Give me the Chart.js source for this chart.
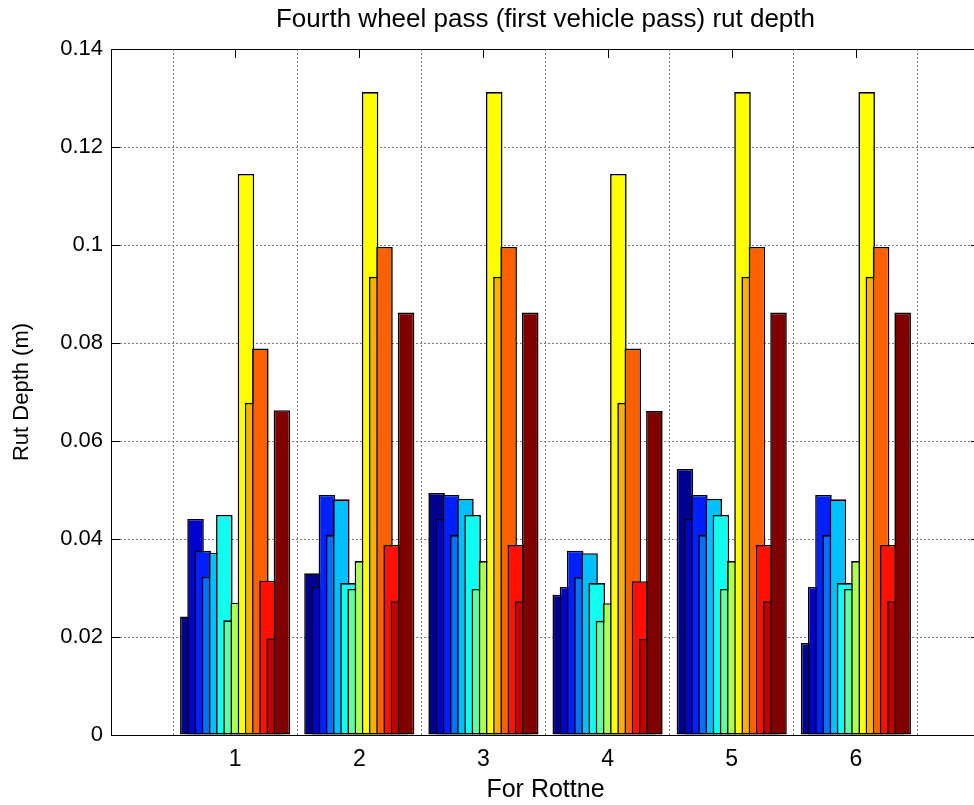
<!DOCTYPE html>
<html>
<head>
<meta charset="utf-8">
<title>Fourth wheel pass rut depth</title>
<script src="https://cdn.jsdelivr.net/npm/chart.js@4.4.1/dist/chart.umd.min.js"></script>
<style>
  html, body { margin: 0; padding: 0; background: #fff; overflow: hidden; }
  #wrap { width: 974px; height: 805px; overflow: hidden; }
</style>
</head>
<body>
<div id="wrap"><canvas id="rutChart" width="990" height="805"></canvas></div>
<script>
// groups on the x axis and tick values
const groups = [1, 2, 3, 4, 5, 6];
const xTicks = [1, 2, 3, 4, 5, 6];
const yTicks = [0, 0.02, 0.04, 0.06, 0.08, 0.1, 0.12, 0.14];

// rut depth (m), one array per bar series, one value per group
const bar1  = [0.0242, 0.0330, 0.0494, 0.0286, 0.0543, 0.0188];
const bar2  = [0.0441, 0.0302, 0.0441, 0.0302, 0.0441, 0.0302];
const bar3  = [0.0376, 0.0490, 0.0490, 0.0376, 0.0490, 0.0490];
const bar4  = [0.0323, 0.0408, 0.0408, 0.0322, 0.0408, 0.0408];
const bar5  = [0.0372, 0.0481, 0.0482, 0.0371, 0.0482, 0.0481];
const bar6  = [0.0449, 0.0310, 0.0449, 0.0310, 0.0449, 0.0310];
const bar7  = [0.0234, 0.0298, 0.0298, 0.0233, 0.0298, 0.0298];
const bar8  = [0.0270, 0.0355, 0.0355, 0.0269, 0.0355, 0.0355];
const bar9  = [0.1145, 0.1312, 0.1312, 0.1145, 0.1312, 0.1312];
const bar10 = [0.0678, 0.0935, 0.0935, 0.0678, 0.0935, 0.0935];
const bar11 = [0.0789, 0.0996, 0.0996, 0.0789, 0.0996, 0.0996];
const bar12 = [0.0315, 0.0388, 0.0388, 0.0314, 0.0388, 0.0388];
const bar13 = [0.0197, 0.0273, 0.0273, 0.0196, 0.0273, 0.0273];
const bar14 = [0.0663, 0.0862, 0.0862, 0.0661, 0.0862, 0.0862];

// jet colours, one per series
const seriesColors = ['#00008F', '#0000CF', '#0020FF', '#0070FF', '#00BFFF', '#10FFEF', '#60FF9F',
                      '#AFFF50', '#FFFF00', '#FFAF00', '#FF6000', '#FF1000', '#BF0000', '#800000'];

const series = [bar1, bar2, bar3, bar4, bar5, bar6, bar7, bar8, bar9, bar10, bar11, bar12, bar13, bar14];
const slot = 0.058; // spacing of bars inside a group, in x units

Chart.defaults.font.family = '"Liberation Sans", Arial, Helvetica, sans-serif';
Chart.defaults.color = '#000';

const datasets = series.map((vals, i) => ({
  label: 'Series ' + (i + 1),
  data: vals.map((v, j) => ({ x: groups[j] + (i - (series.length - 1) / 2) * slot, y: v })),
  backgroundColor: seriesColors[i],
  borderColor: '#000',
  borderWidth: 1.6,
  borderSkipped: false,
  inflateAmount: 0,
  grouped: false,
  categoryPercentage: 1,
  barPercentage: 2.3,
  order: series.length - i   // later series drawn on top
}));

// solid box and inward tick marks like the original axes
const axesBox = {
  id: 'axesBox',
  afterDatasetsDraw(chart) {
    const { ctx, chartArea: a, scales: { x, y } } = chart;
    const tl = 9;
    ctx.save();
    ctx.strokeStyle = '#000';
    ctx.lineWidth = 1;
    ctx.beginPath();
    xTicks.forEach(v => {
      const px = Math.round(x.getPixelForValue(v)) + 0.5;
      ctx.moveTo(px, a.top);
      ctx.lineTo(px, a.top + tl);
    });
    yTicks.forEach(v => {
      const py = Math.round(y.getPixelForValue(v)) + 0.5;
      ctx.moveTo(a.left, py);
      ctx.lineTo(a.left + tl, py);
      ctx.moveTo(a.right, py);
      ctx.lineTo(a.right - tl, py);
    });
    ctx.stroke();
    ctx.strokeRect(Math.round(a.left) + 0.5, Math.round(a.top) + 0.5,
                   Math.round(a.right - a.left), Math.round(a.bottom - a.top));
    ctx.restore();
  }
};

const ctx = document.getElementById('rutChart').getContext('2d');
const myChart = new Chart(ctx, {
  type: 'bar',
  data: { datasets: datasets },
  plugins: [axesBox],
  options: {
    responsive: false,
    devicePixelRatio: 1,
    animation: false,
    layout: { padding: { left: 0, right: 10, top: 0, bottom: 0 } },
    plugins: {
      legend: { display: false },
      tooltip: { enabled: false },
      title: {
        display: true,
        text: 'Fourth wheel pass (first vehicle pass) rut depth',
        fullSize: false,
        color: '#000',
        font: { size: 26, weight: 'normal' },
        padding: { top: 4, bottom: 13.8 }
      }
    },
    scales: {
      x: {
        type: 'linear',
        min: 0,
        max: 7,
        offset: false,
        afterBuildTicks: s => { s.ticks = xTicks.map(v => ({ value: v })); },
        ticks: { font: { size: 23 }, padding: 11, maxRotation: 0, autoSkip: false, callback: v => String(v) },
        grid: { color: '#7a7a7a', lineWidth: 1, drawTicks: false },
        border: { color: '#000', width: 1, dash: [2, 2] },
        title: { display: true, text: 'For Rottne', font: { size: 25 }, padding: { top: 0, bottom: 0 } },
        afterFit: s => { s.height = 70; }
      },
      y: {
        min: 0,
        max: 0.14,
        afterBuildTicks: s => { s.ticks = yTicks.map(v => ({ value: v })); },
        ticks: { font: { size: 22 }, padding: 8, callback: v => String(+v.toFixed(2)) },
        grid: { color: '#7a7a7a', lineWidth: 1, drawTicks: false },
        border: { color: '#000', width: 1, dash: [2, 2] },
        title: { display: true, text: 'Rut Depth (m)', font: { size: 22 }, padding: { top: 9, bottom: 0 } },
        afterFit: s => { s.width = 111; }
      }
    }
  }
});
</script>
</body>
</html>
